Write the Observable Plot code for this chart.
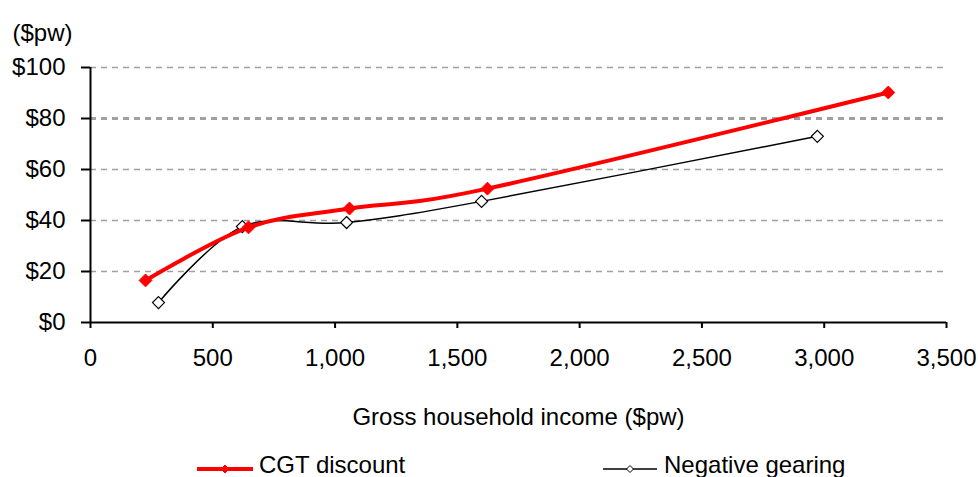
<!DOCTYPE html>
<html>
<head>
<meta charset="utf-8">
<script src="https://cdn.jsdelivr.net/npm/d3@7"></script>
<script src="https://cdn.jsdelivr.net/npm/@observablehq/plot@0.6"></script>
<style>
  html, body { margin: 0; padding: 0; background: #fff; }
  #wrap { position: relative; width: 978px; height: 477px; font-family: "Liberation Sans", Arial, sans-serif; }
</style>
</head>
<body>
<div id="wrap"></div>
<script>
// Data
const cgtIncome = [225, 646, 1059, 1623, 3262];
const cgtValue  = [16.5, 37.3, 44.7, 52.5, 90.2];
const ngIncome  = [278, 621, 1047, 1599, 2972];
const ngValue   = [7.8, 37.6, 39.2, 47.5, 73];
const seriesNames = ["CGT discount", "Negative gearing"];
const xTicks = [0, 500, 1000, 1500, 2000, 2500, 3000, 3500];
const yTicks = [0, 20, 40, 60, 80, 100];
const yUnit = "($pw)";
const xTitle = "Gross household income ($pw)";

const cgt = cgtIncome.map((x, i) => ({x, y: cgtValue[i]}));
const ng = ngIncome.map((x, i) => ({x, y: ngValue[i]}));
const curve = d3.curveCatmullRom.alpha(0);
const font = "Liberation Sans, Arial, sans-serif";

const chart = Plot.plot({
  width: 978,
  height: 440,
  marginTop: 67,
  marginLeft: 90,
  marginRight: 32,
  marginBottom: 118,
  style: {fontFamily: font, fontSize: "24px", background: "white", color: "black", overflow: "visible"},
  x: {domain: [0, 3500]},
  y: {domain: [0, 100]},
  marks: [
    Plot.ruleY(yTicks.filter(d => d > 0 && d !== 80), {stroke: "#a0a0a0", strokeWidth: 1.5, strokeDasharray: "6,5"}),
    Plot.ruleY(yTicks.filter(d => d === 80), {stroke: "#a0a0a0", strokeWidth: 3, strokeDasharray: "6,5"}),
    Plot.axisY({ticks: yTicks, tickFormat: d => "$" + d, tickSize: 9, tickPadding: 16, stroke: "black", strokeWidth: 2, fontSize: 24, label: null}),
    Plot.axisX({ticks: xTicks, tickFormat: d3.format(","), tickSize: 6, tickPadding: 20, stroke: "black", strokeWidth: 2, fontSize: 24, label: null}),
    Plot.ruleX([0], {stroke: "black", strokeWidth: 2}),
    Plot.ruleY([0], {stroke: "black", strokeWidth: 2}),
    Plot.line(ng, {x: "x", y: "y", stroke: "black", strokeWidth: 1.5, curve}),
    Plot.dot(ng, {x: "x", y: "y", symbol: "diamond2", r: 5.4, stroke: "black", strokeWidth: 1.2, fill: "white"}),
    Plot.line(cgt, {x: "x", y: "y", stroke: "#ff0000", strokeWidth: 4, curve}),
    Plot.dot(cgt, {x: "x", y: "y", symbol: "diamond2", r: 5.8, fill: "#ff0000", stroke: "#ff0000", strokeWidth: 1}),
    Plot.text([yUnit], {text: d => d, frameAnchor: "top-left", lineAnchor: "middle", dx: -78, dy: -34, textAnchor: "start", fontSize: 24}),
    Plot.text([xTitle], {text: d => d, frameAnchor: "bottom", lineAnchor: "middle", dy: 95, fontSize: 24})
  ]
});
document.getElementById("wrap").appendChild(chart);

// Legend below the chart
const legend = d3.create("svg").attr("width", 978).attr("height", 37)
  .style("position", "absolute").style("left", "0px").style("top", "440px");
const items = [
  {name: seriesNames[0], x0: 197, x1: 253, tx: 259, color: "#ff0000", width: 4, filled: true},
  {name: seriesNames[1], x0: 603, x1: 657, tx: 664, color: "black", width: 1.5, filled: false}
];
for (const it of items) {
  const g = legend.append("g");
  g.append("line").attr("x1", it.x0).attr("x2", it.x1).attr("y1", 29).attr("y2", 29)
    .attr("stroke", it.color).attr("stroke-width", it.width);
  const cx = (it.x0 + it.x1) / 2, r = it.filled ? 4 : 3.5;
  g.append("path").attr("d", `M${cx},${29 - r}L${cx + r},29L${cx},${29 + r}L${cx - r},29Z`)
    .attr("fill", it.filled ? it.color : "white").attr("stroke", it.color).attr("stroke-width", 1);
  g.append("text").attr("x", it.tx).attr("y", 25).attr("dy", "0.35em")
    .attr("font-family", font).attr("font-size", 24).attr("fill", "black").text(it.name);
}
document.getElementById("wrap").appendChild(legend.node());
</script>
</body>
</html>
